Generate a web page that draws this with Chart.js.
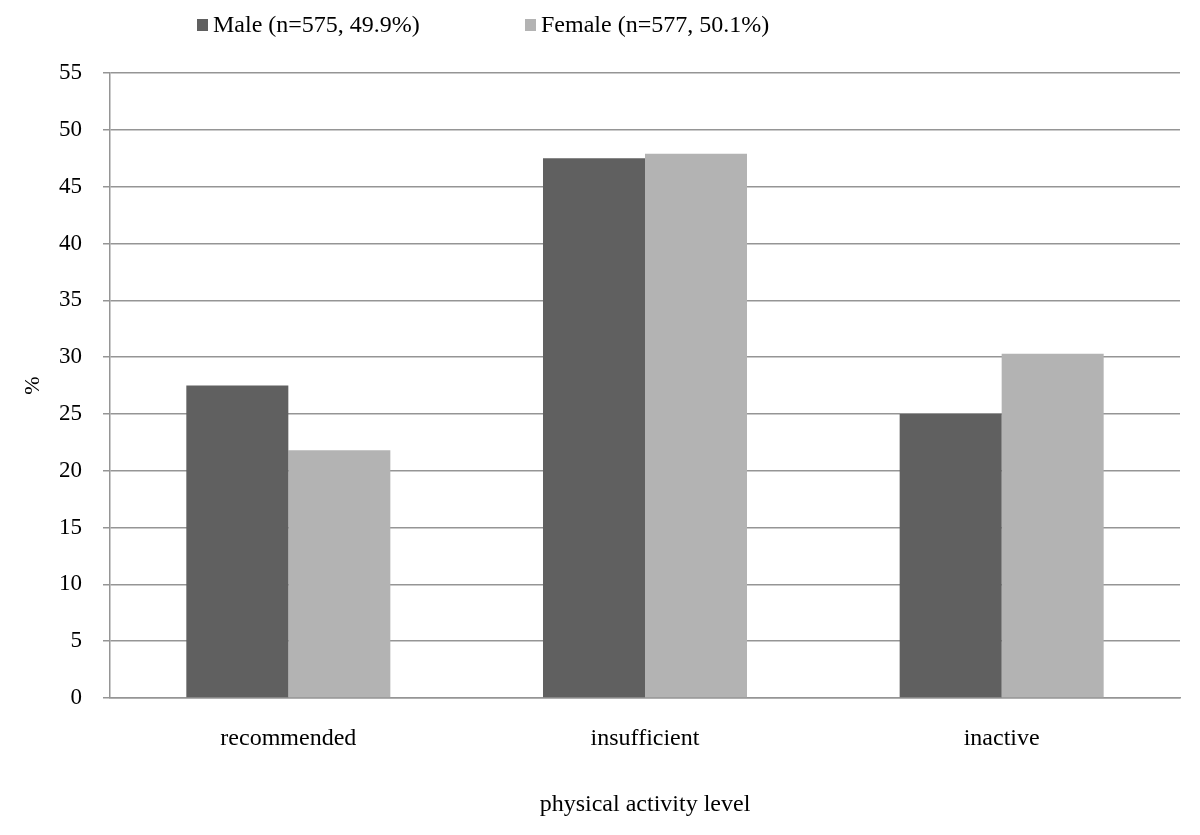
<!DOCTYPE html>
<html>
<head>
<meta charset="utf-8">
<script src="https://cdn.jsdelivr.net/npm/chart.js@4"></script>
<style>
    html, body { margin: 0; padding: 0; background: #fff; }
    #wrap { width: 1200px; height: 835px; }
</style>
</head>
<body>
<div id="wrap"><canvas id="chart" width="1200" height="835"></canvas></div>
<script>
// physical activity level by sex, %
const categories = ['recommended', 'insufficient', 'inactive'];
const seriesNames = ['Male (n=575, 49.9%)', 'Female (n=577, 50.1%)'];
const maleValues = [27.5, 47.5, 25.0];
const femaleValues = [21.8, 47.9, 30.3];
const yTicks = [0, 5, 10, 15, 20, 25, 30, 35, 40, 45, 50, 55];

const FONT = '"Liberation Serif", "Times New Roman", serif';
const GRID = '#959595';

// legend drawn above the plot, left-of-centre like the original
const topLegend = {
    id: 'topLegend',
    afterDraw(chart) {
        const ctx = chart.ctx;
        const xs = [197, 525];
        const y = 25;
        ctx.save();
        ctx.font = '24px ' + FONT;
        ctx.textBaseline = 'middle';
        ctx.textAlign = 'left';
        chart.data.datasets.forEach((ds, i) => {
            ctx.fillStyle = ds.backgroundColor;
            ctx.fillRect(xs[i], y - 6, 11, 12);
            ctx.fillStyle = '#000';
            ctx.fillText(ds.label, xs[i] + 16, y + 1);
        });
        ctx.restore();
    }
};

const ctx = document.getElementById('chart').getContext('2d');
new Chart(ctx, {
    type: 'bar',
    data: {
        labels: categories,
        datasets: [{
            label: seriesNames[0],
            data: maleValues,
            backgroundColor: '#606060',
            borderWidth: 0,
            categoryPercentage: 0.572,
            barPercentage: 1.0
        }, {
            label: seriesNames[1],
            data: femaleValues,
            backgroundColor: '#b3b3b3',
            borderWidth: 0,
            categoryPercentage: 0.572,
            barPercentage: 1.0
        }]
    },
    options: {
        responsive: false,
        animation: false,
        layout: { padding: { top: 73, right: 20, bottom: 0, left: 0 } },
        plugins: {
            legend: { display: false },
            tooltip: { enabled: false }
        },
        scales: {
            x: {
                grid: { display: false },
                border: { display: true, color: GRID, width: 1.5 },
                ticks: { color: '#000', font: { family: FONT, size: 24 }, padding: 18 },
                title: {
                    display: true,
                    text: 'physical activity level',
                    color: '#000',
                    font: { family: FONT, size: 24 },
                    padding: { top: 0, bottom: 16 }
                },
                afterFit: (scale) => { scale.height = 137; }
            },
            y: {
                min: 0,
                max: 55,
                afterBuildTicks: (scale) => { scale.ticks = yTicks.map(v => ({ value: v })); },
                grid: { color: GRID, lineWidth: 1.5, tickLength: 7 },
                border: { display: true, color: GRID, width: 1.5 },
                ticks: { color: '#000', font: { family: FONT, size: 23 }, padding: 21 },
                title: {
                    display: true,
                    text: '%',
                    color: '#000',
                    font: { family: FONT, size: 22 },
                    padding: { top: 20, bottom: 0 }
                },
                afterFit: (scale) => { scale.width = 110; }
            }
        }
    },
    plugins: [topLegend]
});
</script>
</body>
</html>
